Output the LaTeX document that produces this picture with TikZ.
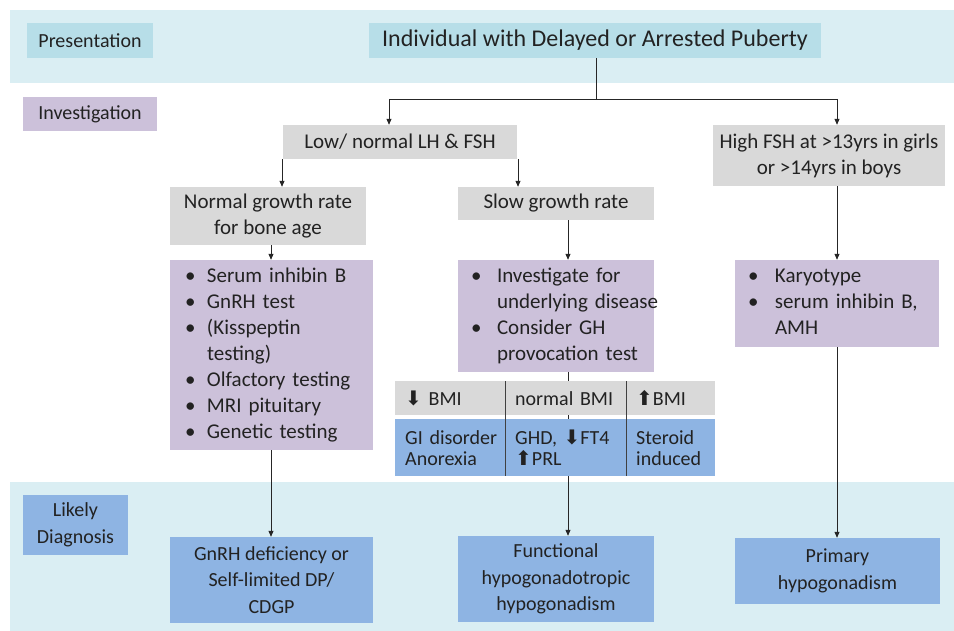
\documentclass[tikz,border=0pt]{standalone}
\usepackage{fontspec}
\setmainfont{Carlito}
\newfontfamily\sym{DejaVu Sans}
\usetikzlibrary{arrows.meta}
\definecolor{bandc}{HTML}{DAEEF3}
\definecolor{presc}{HTML}{B7DEE8}
\definecolor{purp}{HTML}{CCC1DA}
\definecolor{grayc}{HTML}{D9D9D9}
\definecolor{bluec}{HTML}{8EB4E3}
\definecolor{txtc}{HTML}{222222}
\newcommand\blist[2]{\begin{tabular}{@{}p{#1}@{}l@{}}#2\end{tabular}}
\newcommand\dn{{\sym\char"2B07}}
\newcommand\up{{\sym\char"2B06}}
\begin{document}
\begin{tikzpicture}[x=1pt,y=-1pt,
  box/.style={inner sep=0pt, text=txtc, anchor=center, align=center},
  labf/.style={font=\fontsize{20}{26.5}\selectfont},
  txtf/.style={font=\fontsize{21}{26}\selectfont},
  tabf/.style={font=\fontsize{20}{21}\selectfont},
  band/.style={box, fill=bandc, minimum width=944pt},
  tcell/.style={inner ysep=0pt, inner xsep=10pt, anchor=north west, align=left, text=txtc, tabf},
  arr/.style={draw=black!85, line width=0.8pt, -{Triangle[length=6pt,width=5pt]}},
  plain/.style={draw=black!85, line width=0.8pt},
  divl/.style={draw=black!75, line width=1.2pt}]
\useasboundingbox (0,0) rectangle (954,631);
% bands
\node[band, minimum height=73pt] (band1) at (482,46.5) {};
\node[band, minimum height=149pt] (band2) at (482,556.5) {};
% row labels
\node[box, labf, fill=presc, minimum width=126pt, minimum height=35pt] (pres) at (90,40.5) {Presentation};
\node[box, labf, fill=purp, minimum width=134pt, minimum height=34pt] (inv) at (90,114) {Investigation};
\node[box, labf, fill=bluec, minimum width=105pt, minimum height=60pt] (likely) at (75.5,525) {Likely\\Diagnosis};
% top
\node[box, font=\fontsize{24}{28}\selectfont, fill=presc, minimum width=452pt, minimum height=35pt] (title) at (595,40.5) {Individual with Delayed or Arrested Puberty};
\node[box, txtf, fill=grayc, minimum width=234pt, minimum height=34pt] (low) at (400,142) {Low/ normal LH \& FSH};
\node[box, txtf, fill=grayc, minimum width=232pt, minimum height=61pt] (high) at (829,155.5) {High FSH at >13yrs in girls\\or >14yrs in boys};
\node[box, txtf, fill=grayc, minimum width=196pt, minimum height=58pt] (normal) at (268,216) {Normal growth rate\\for bone age};
\node[box, txtf, fill=grayc, minimum width=196pt, minimum height=33pt] (slow) at (556,203.5) {Slow growth rate};
% purple lists
\node[box, txtf, fill=purp, align=left, inner xsep=15pt, text width=173pt, minimum height=190pt] (pl) at (271.5,355)
 {\blist{22pt}{\textbullet & Serum inhibin B\\ \textbullet & GnRH test\\ \textbullet & (Kisspeptin\\ & testing)\\ \textbullet & Olfactory testing\\ \textbullet & MRI pituitary\\ \textbullet & Genetic testing}};
\node[box, txtf, fill=purp, align=left, inner xsep=13pt, text width=170pt, minimum height=112pt] (pm) at (556,316)
 {\blist{26pt}{\textbullet & Investigate for\\ & underlying disease\\ \textbullet & Consider GH\\ & provocation test}};
\node[box, txtf, fill=purp, align=left, inner xsep=13pt, text width=178pt, minimum height=87pt] (pr) at (837,303.5)
 {\blist{27pt}{\textbullet & Karyotype\\ \textbullet & serum inhibin B,\\ & AMH}};
% diagnoses
\node[box, labf, fill=bluec, minimum width=203pt, minimum height=86pt] (gnrh) at (271.5,580) {GnRH deficiency or\\Self-limited DP/\\CDGP};
\node[box, labf, fill=bluec, minimum width=196pt, minimum height=86pt] (func) at (556,579) {Functional\\hypogonadotropic\\hypogonadism};
\node[box, labf, fill=bluec, minimum width=205pt, minimum height=66pt] (prim) at (837.5,571) {Primary\\hypogonadism};
% connectors
\coordinate (j) at (596,99);
\coordinate (cL) at (389,99);
\coordinate (cR) at (837,99);
\coordinate (c1) at (282,0);
\coordinate (c2) at (518,0);
\coordinate (c3) at (271,0);
\coordinate (c4) at (568,0);
\draw[plain] (title.south -| j) -- (j);
\draw[plain] (cL) -- (cR);
\draw[arr] (cL) -- (cL |- low.north);
\draw[arr] (cR) -- (cR |- high.north);
\draw[arr] (c1 |- low.south) -- (c1 |- normal.north);
\draw[arr] (c2 |- low.south) -- (c2 |- slow.north);
\draw[arr] (c3 |- normal.south) -- (c3 |- pl.north);
\draw[arr] (c4 |- slow.south) -- (c4 |- pm.north);
\draw[arr] (cR |- high.south) -- (cR |- pr.north);
\draw[arr] (c3 |- pl.south) -- (c3 |- gnrh.north);
\draw[arr] (c4 |- pm.south) -- (c4 |- func.north);
\draw[arr] (cR |- pr.south) -- (cR |- prim.north);
% BMI table
\node[tcell, fill=grayc, text width=90pt, minimum height=34pt] (g1) at (395,381) {\mbox{\dn\ BMI}};
\node[tcell, fill=grayc, text width=101pt, minimum height=34pt] (g2) at (505,381) {\mbox{normal BMI}};
\node[tcell, fill=grayc, text width=69pt, minimum height=34pt] (g3) at (626,381) {\mbox{\up BMI}};
\node[tcell, fill=bluec, text width=90pt, minimum height=57pt] (b1) at (395,419) {\mbox{GI disorder}\\\mbox{Anorexia}};
\node[tcell, fill=bluec, text width=101pt, minimum height=57pt] (b2) at (505,419) {\mbox{GHD, \dn FT4}\\\mbox{\up PRL}};
\node[tcell, fill=bluec, text width=69pt, minimum height=57pt] (b3) at (626,419) {\mbox{Steroid}\\\mbox{induced}};
\draw[divl] (g1.north east) -- (b1.south east);
\draw[divl] (g2.north east) -- (b2.south east);
\end{tikzpicture}
\end{document}
